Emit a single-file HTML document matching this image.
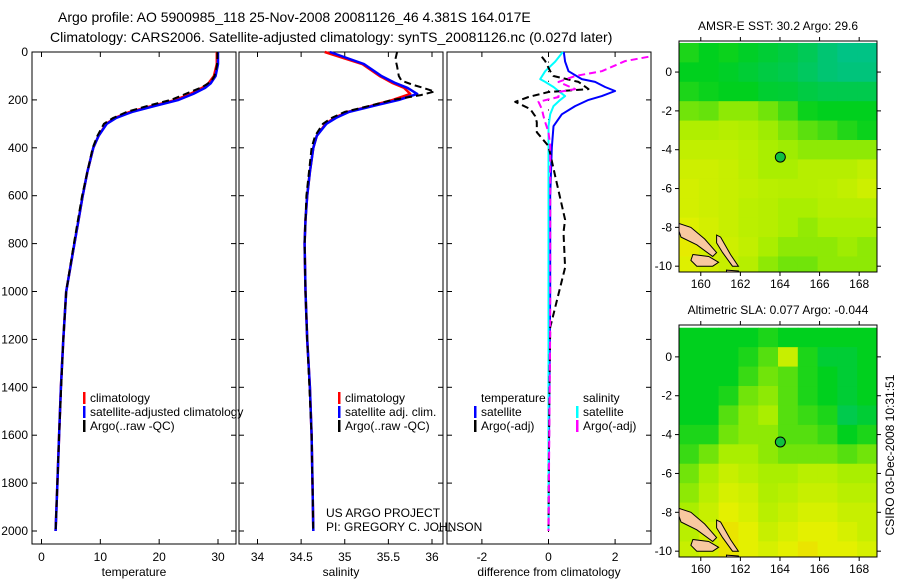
<!DOCTYPE html>
<html><head><meta charset="utf-8">
<style>
html,body{margin:0;padding:0;background:#fff;}
svg{display:block;font-family:"Liberation Sans",sans-serif;}
</style></head>
<body>
<svg id="fig" width="900" height="580" viewBox="0 0 900 580" xmlns="http://www.w3.org/2000/svg">
<text x="58" y="22" font-size="14">Argo profile: AO 5900985_118 25-Nov-2008 20081126_46 4.381S 164.017E</text>
<text x="50" y="42" font-size="14">Climatology: CARS2006. Satellite-adjusted climatology: synTS_20081126.nc (0.027d later)</text>
<g id="g"></g>
</svg>
<script>
// ---- profile data ----
const depthClim = [0,50,100,130,150,175,200,225,250,275,300,350,400,500,600,700,800,1000,1200,1400,1600,1800,2000];
const tempClim  = [29.8,29.8,29.3,28.4,27.3,25.3,22.8,18.8,15.0,12.5,11.0,9.7,8.8,7.8,7.0,6.3,5.6,4.2,3.7,3.3,3.0,2.7,2.4];
const tempSat   = [30.0,30.0,29.6,28.8,27.8,25.8,23.3,19.3,15.4,12.7,11.1,9.7,8.8,7.8,7.0,6.3,5.6,4.2,3.7,3.3,3.0,2.7,2.4];
const salClim   = [34.77,35.2,35.4,35.55,35.68,35.75,35.55,35.3,35.03,34.88,34.78,34.68,34.64,34.6,34.57,34.55,34.54,34.55,34.57,34.6,34.62,34.63,34.64];
const salSat    = [34.83,35.22,35.42,35.58,35.72,35.83,35.62,35.33,35.05,34.9,34.79,34.68,34.64,34.6,34.57,34.55,34.54,34.55,34.57,34.6,34.62,34.63,34.64];
const depthArgo = [0,30,60,100,120,137,150,165,180,200,225,250,275,300,350,400,600,800,1000,1200,1600,2000];
const tempArgo  = [29.9,29.9,29.8,29.4,28.9,28.0,27.0,25.5,24.0,22.0,18.0,14.5,12.2,10.6,9.5,8.7,6.9,5.5,4.2,3.7,3.0,2.4];
const salArgo   = [35.6,35.58,35.6,35.62,35.65,35.78,35.9,36.03,35.87,35.55,35.28,35.0,34.85,34.75,34.66,34.62,34.56,34.54,34.55,34.57,34.62,34.64];
// differences
const depthDiffSat = [0,40,80,113,125,146,163,184,200,226,260,310,400,600,1000,1500,2000];
const diffTempSat  = [0.46,0.5,0.6,1.0,1.4,1.7,2.0,1.6,1.2,0.8,0.4,0.15,0.1,0.05,0.05,0.02,0.0];
const diffSalSat   = [0.43,0.2,-0.1,-0.25,-0.1,0.15,0.3,0.5,0.35,0.15,0.05,0.0,0.0,0.0,0.0,0.0,0.0];
const depthDiffArgo = [20,38,80,100,125,155,167,188,208,238,268,293,335,393,518,700,753,900,1150,1500,2000];
const diffTempArgo  = [-0.2,-0.1,0.05,0.15,0.9,1.2,0.0,-0.6,-1.0,-0.55,-0.4,-0.35,-0.35,0.0,0.2,0.5,0.45,0.5,0.05,0.02,0.0];
const diffSalArgo   = [3.0,2.3,1.6,0.8,0.3,0.8,0.3,0.3,-0.3,-0.2,-0.15,-0.1,0.0,0.05,0.05,0.05,0.05,0.05,0.05,0.03,0.0];
// tick labels
const depthTicks = [0,200,400,600,800,1000,1200,1400,1600,1800,2000];
const tempTicks = [0,10,20,30];
const salTicks = [34,34.5,35,35.5,36];
const diffTicks = [-2,0,2];
const lonTicks = [160,162,164,166,168];
const latTicks = [0,-2,-4,-6,-8,-10];
// map grids (rows lat 1..-10, cols from 158.9 eastward, 1 deg), 0=teal .. 1=orange
const sstGrid = [
[.35,.3,.32,.28,.25,.22,.18,.12,.08,.08],
[.3,.3,.28,.25,.22,.2,.16,.12,.1,.1],
[.35,.32,.3,.3,.26,.25,.22,.2,.2,.2],
[.5,.48,.55,.55,.5,.42,.32,.3,.3,.3],
[.62,.62,.64,.62,.58,.52,.46,.42,.36,.32],
[.68,.68,.68,.65,.6,.58,.55,.55,.55,.55],
[.72,.72,.7,.66,.6,.6,.64,.64,.64,.68],
[.74,.72,.7,.68,.65,.64,.64,.65,.68,.72],
[.74,.72,.7,.66,.64,.6,.6,.64,.64,.64],
[.78,.74,.7,.66,.64,.6,.56,.6,.6,.6],
[.82,.74,.72,.68,.6,.55,.55,.55,.58,.55],
[.78,.74,.7,.64,.55,.5,.5,.55,.55,.55]];
const slaGrid = [
[.3,.3,.3,.3,.35,.3,.3,.3,.3,.3],
[.3,.3,.3,.35,.45,.7,.35,.25,.25,.3],
[.3,.3,.3,.4,.5,.45,.35,.3,.25,.3],
[.3,.3,.35,.5,.55,.45,.35,.3,.25,.3],
[.3,.3,.45,.55,.6,.45,.4,.35,.2,.25],
[.35,.35,.5,.55,.55,.45,.45,.4,.3,.35],
[.4,.5,.6,.6,.55,.5,.5,.5,.45,.5],
[.5,.6,.7,.65,.6,.6,.65,.65,.6,.6],
[.55,.65,.75,.72,.62,.65,.7,.7,.65,.65],
[.6,.7,.8,.75,.65,.7,.75,.75,.7,.7],
[.65,.75,.85,.8,.7,.75,.8,.8,.75,.7],
[.7,.75,.85,.8,.75,.8,.85,.8,.8,.75]];
const argoLon = 164.017, argoLat = -4.381;

const NS='http://www.w3.org/2000/svg';
const root=document.getElementById('g');
function mk(tag,attrs,parent){const e=document.createElementNS(NS,tag);for(const k in attrs)e.setAttribute(k,attrs[k]);(parent||root).appendChild(e);return e;}
function txt(x,y,s,size,anchor,parent){const t=mk('text',{x:x,y:y,'font-size':size,'text-anchor':anchor||'start'},parent);t.textContent=s;return t;}

// depth axis
const yTop=52,yBot=544;
function yD(d){return 52+d*(531-52)/2000;}

const panels=[
 {name:'temperature',x0:32,x1:236,xs:v=>41.5+v*(218-41.5)/30,ticks:tempTicks,label:'temperature'},
 {name:'salinity',x0:239,x1:443,xs:v=>257.5+(v-34)*(432-257.5)/2,ticks:salTicks,label:'salinity'},
 {name:'difference',x0:447,x1:651,xs:v=>548.5+v*33.3,ticks:diffTicks,label:'difference from climatology'}];

panels.forEach((p,i)=>{
  const g=mk('g',{});
  
  
  const fr=mk('rect',{x:p.x0,y:yTop,width:p.x1-p.x0,height:yBot-yTop,fill:'none',stroke:'#000','stroke-width':1},g);
  
  
  p.ticks.forEach(t=>{
    const x=p.xs(t);
    mk('line',{x1:x,x2:x,y1:yTop,y2:yTop+5,stroke:'#000'},g);
    mk('line',{x1:x,x2:x,y1:yBot,y2:yBot-5,stroke:'#000'},g);
    const tl=txt(x,561,String(t),12,'middle',g);
    
    
  });
  depthTicks.forEach(d=>{
    mk('line',{x1:p.x0,x2:p.x0+5,y1:yD(d),y2:yD(d),stroke:'#000'},g);
    mk('line',{x1:p.x1,x2:p.x1-5,y1:yD(d),y2:yD(d),stroke:'#000'},g);
  });
  const xl=txt((p.x0+p.x1)/2,576,p.label,12,'middle',g);
  
  
});
depthTicks.forEach(d=>{
  const t=txt(28,yD(d)+4,String(d),12,'end');
  
  
});

function line(xs,vals,deps,color,w,dash,name){
  const pts=vals.map((v,i)=>xs(v).toFixed(1)+','+yD(deps[i]).toFixed(1)).join(' ');
  const e=mk('polyline',{points:pts,fill:'none',stroke:color,'stroke-width':w,'stroke-dasharray':dash||'none','stroke-linejoin':'round'});
  
  
}
const P=panels;
line(P[0].xs,tempClim,depthClim,'#f00',2.5,null,'temp-climatology-line');
line(P[0].xs,tempSat,depthClim,'#00f',2.5,null,'temp-satellite-line');
line(P[0].xs,tempArgo,depthArgo,'#000',2,'7,4','temp-argo-line');
line(P[1].xs,salClim,depthClim,'#f00',2.5,null,'sal-climatology-line');
line(P[1].xs,salSat,depthClim,'#00f',2.5,null,'sal-satellite-line');
line(P[1].xs,salArgo,depthArgo,'#000',2,'7,4','sal-argo-line');
for(let d=0;d<=2000;d+=40){mk('rect',{x:P[2].xs(0)-0.5,y:yD(d),width:1,height:1,fill:'#000'});}
line(P[2].xs,diffTempSat,depthDiffSat,'#00f',2,null,'diff-temp-satellite-line');
line(P[2].xs,diffSalSat,depthDiffSat,'#0ff',2,null,'diff-sal-satellite-line');
line(P[2].xs,diffTempArgo,depthDiffArgo,'#000',2,'7,4','diff-temp-argo-line');
line(P[2].xs,diffSalArgo,depthDiffArgo,'#f0f',2,'7,4','diff-sal-argo-line');

function legend(x,y,color,label,name){
  const g=mk('g',{});
  
  
  if(color) mk('rect',{x:x,y:y-10,width:2.5,height:12,fill:color},g);
  txt(x+7,y,label,12,'start',g);
}
legend(83,402,'#f00','climatology','legend-climatology');
legend(83,416,'#00f','satellite-adjusted climatology','legend-satellite');
legend(83,430,'#000','Argo(..raw -QC)','legend-argo');
legend(338,402,'#f00','climatology','legend-sal-climatology');
legend(338,416,'#00f','satellite adj. clim.','legend-sal-satellite');
legend(338,430,'#000','Argo(..raw -QC)','legend-sal-argo');
legend(474,402,null,'temperature','legend-temperature-header');
legend(474,416,'#00f','satellite','legend-diff-temp-sat');
legend(474,430,'#000','Argo(-adj)','legend-diff-temp-argo');
legend(576,402,null,'salinity','legend-salinity-header');
legend(576,416,'#0ff','satellite','legend-diff-sal-sat');
legend(576,430,'#f0f','Argo(-adj)','legend-diff-sal-argo');
txt(326,517,'US ARGO PROJECT',12);
txt(326,531,'PI: GREGORY C. JOHNSON',12);

// ---- maps ----
const stops=[[0,[0,190,170]],[0.3,[0,208,30]],[0.6,[170,238,0]],[0.8,[228,240,0]],[1,[250,190,0]]];
function col(v){for(let i=1;i<stops.length;i++){if(v<=stops[i][0]){const a=stops[i-1],b=stops[i];const t=(v-a[0])/(b[0]-a[0]);return 'rgb('+a[1].map((c,k)=>Math.round(c+(b[1][k]-c)*t)).join(',')+')';}}return 'rgb(250,190,0)';}
const islands=[
 [[158.9,-7.8],[159.5,-8.0],[160.2,-8.6],[160.8,-9.3],[160.6,-9.5],[159.8,-8.9],[159.0,-8.5],[158.9,-8.2]],
 [[160.8,-8.4],[161.0,-8.5],[161.5,-9.4],[161.9,-10.0],[161.6,-10.0],[161.1,-9.3],[160.8,-8.8]],
 [[159.6,-9.4],[160.4,-9.5],[160.9,-9.8],[160.6,-10.0],[159.8,-10.0],[159.5,-9.7]],
 [[161.3,-10.2],[161.9,-10.25],[162.0,-10.4],[161.3,-10.4]]];
function drawMap(top,bottom,latTop,grid,title,name){
  const x0=679,x1=877,lonL=158.9,lonR=168.9,latB=-10.3;
  const X=l=>x0+(l-lonL)*(x1-x0)/(lonR-lonL);
  const Y=la=>top+(latTop-la)*(bottom-top)/(latTop-latB);
  const g=mk('g',{});
  
  
  const cp='clip'+name;
  const cl=mk('clipPath',{id:cp},g);mk('rect',{x:x0,y:top,width:x1-x0,height:bottom-top},cl);
  const cells=mk('g',{'clip-path':'url(#'+cp+')'},g);
  grid.forEach((row,r)=>row.forEach((v,c)=>{
    const la=1-r, lo=lonL+c;
    const e=mk('rect',{x:X(lo),y:Y(la+0.5),width:X(lo+1)-X(lo)+0.5,height:Y(la-0.5)-Y(la+0.5)+0.5,fill:col(v)},cells);
    
    
  }));
  islands.forEach(poly=>{
    const e=mk('polygon',{points:poly.map(p=>X(p[0]).toFixed(1)+','+Y(p[1]).toFixed(1)).join(' '),fill:'#f8c8a0',stroke:'#000','stroke-width':1},cells);
    
    
  });
  mk('rect',{x:x0,y:top,width:x1-x0,height:bottom-top,fill:'none',stroke:'#000'},g);
  lonTicks.forEach(l=>{mk('line',{x1:X(l),x2:X(l),y1:top,y2:top-4,stroke:'#000'},g);mk('line',{x1:X(l),x2:X(l),y1:bottom,y2:bottom+4,stroke:'#000'},g);
    const t=txt(X(l),bottom+16,String(l),12,'middle',g);});
  latTicks.forEach(l=>{mk('line',{x1:x0,x2:x0-4,y1:Y(l),y2:Y(l),stroke:'#000'},g);mk('line',{x1:x1,x2:x1+4,y1:Y(l),y2:Y(l),stroke:'#000'},g);
    const t=txt(672,Y(l)+4,String(l),12,'end',g);});
  const m=mk('circle',{cx:X(argoLon),cy:Y(argoLat),r:5,fill:'#10c040',stroke:'#000','stroke-width':1},g);
  
  
  const tt=txt((x0+x1)/2,top-11,title,12,'middle',g);
  
  
}
drawMap(41,272,1.6,sstGrid,'AMSR-E SST: 30.2 Argo: 29.6','sst-map');
drawMap(325,557,1.64,slaGrid,'Altimetric SLA: 0.077 Argo: -0.044','sla-map');
const rt=txt(0,0,'CSIRO 03-Dec-2008 10:31:51',12,'middle');
rt.setAttribute('transform','translate(894,455) rotate(-90)');


</script>
</body></html>
